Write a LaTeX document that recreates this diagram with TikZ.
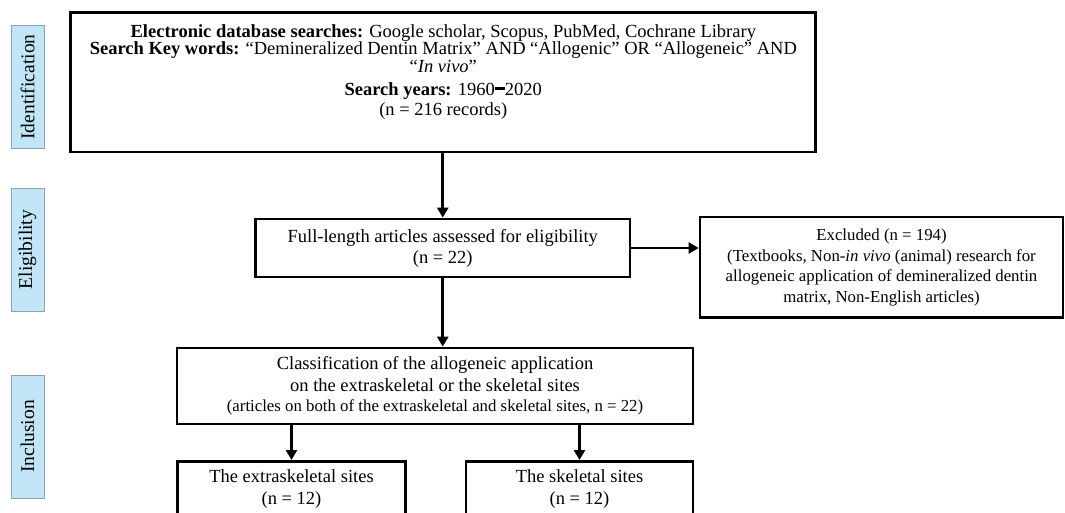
\documentclass[tikz,border=0pt]{standalone}
\usepackage{fontspec}
\setmainfont{Liberation Serif}
\usetikzlibrary{arrows.meta}
\definecolor{sideblue}{HTML}{C2E6F7}
\definecolor{sideedge}{HTML}{8AA6B6}
\newcommand{\bigdash}{\raisebox{0.32em}{\rule{0.55em}{0.11em}}}
\begin{document}
\begin{tikzpicture}[x=1pt,y=-1pt,
  box/.style={draw=black, line width=2.7pt, fill=white, inner sep=0pt, align=center},
  txt/.style={inner sep=0pt, align=center},
  side/.style={draw=sideedge, fill=sideblue, line width=0.8pt, inner sep=0pt, rotate=90,
    minimum width=123pt, minimum height=33pt, font=\fontsize{19.5}{22}\selectfont},
  arr/.style={line width=2.7pt, -{Triangle[length=10pt,width=11pt]}}]
\clip (0,0) rectangle (1065,513);
\useasboundingbox (0,0) rectangle (1065,513);

% side labels
\node[side] (sid) at (27.5,87) {Identification};
\node[side] (sel) at (27.5,249.5) {Eligibility};
\node[side] (sin) at (27.5,436.5) {Inclusion};

% boxes
\node[box, minimum width=745pt, minimum height=139.5pt] (top) at (443.3,82.25) {};
\node[txt, font=\fontsize{18.5}{17.5}\selectfont] (toptxt) at (443.3,72) {%
\textbf{Electronic database searches:} Google scholar, Scopus, PubMed, Cochrane Library\\
\textbf{Search Key words:} “Demineralized Dentin Matrix” AND “Allogenic” OR “Allogeneic” AND\\
“\textit{In vivo}”\\[5.5pt]
\textbf{Search years:} 1960\bigdash 2020\\[2.5pt]
(n = 216 records)};

\node[box, minimum width=374.5pt, minimum height=58pt, font=\fontsize{18.5}{21}\selectfont] (elig) at (442.75,248)
  {Full-length articles assessed for eligibility\\(n = 22)};

\node[box, minimum width=363pt, minimum height=100.5pt, font=\fontsize{16.8}{20.5}\selectfont] (excl) at (881.5,267.25)
  {Excluded (n = 194)\\(Textbooks, Non-\textit{in vivo} (animal) research for\\allogeneic application of demineralized dentin\\matrix, Non-English articles)};

\node[box, minimum width=516pt, minimum height=76pt, font=\fontsize{18.5}{22.5}\selectfont] (class) at (435,386)
  {Classification of the allogeneic application\\
   on the extraskeletal or the skeletal sites\\[-2.5pt]
   {\fontsize{16.8}{20}\selectfont (articles on both of the extraskeletal and skeletal sites, n = 22)}};

\node[box, minimum width=228.3pt, minimum height=56pt, anchor=north, font=\fontsize{18.5}{22}\selectfont] (extra) at (291.5,460)
  {The extraskeletal sites\\(n = 12)};
\node[box, minimum width=227pt, minimum height=56pt, anchor=north, font=\fontsize{18.5}{22}\selectfont] (skel) at (579.5,460)
  {The skeletal sites\\(n = 12)};

% connectors
\draw[arr] (top.south -| elig.north) -- (elig.north);
\draw[arr] (elig.south) -- (elig.south |- class.north);
\draw[arr] (elig.east) -- (excl.west |- elig.east);
\draw[arr] (class.south -| extra.north) -- (extra.north);
\draw[arr] (class.south -| skel.north) -- (skel.north);
\end{tikzpicture}
\end{document}
